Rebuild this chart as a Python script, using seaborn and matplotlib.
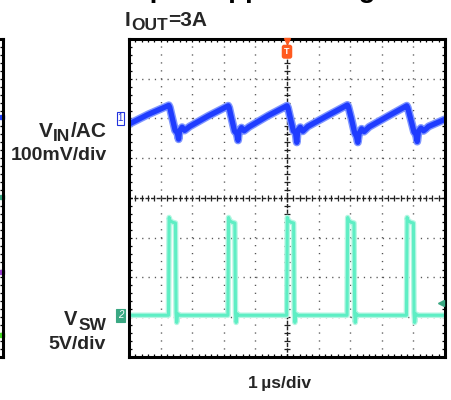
import numpy as np
import pandas as pd
import matplotlib
matplotlib.use("Agg")
import matplotlib.pyplot as plt
from matplotlib.ticker import MultipleLocator, NullFormatter
import seaborn as sns

# ---------------- data ----------------
# Channel 1: input voltage ripple, AC coupled, 100 mV/div (mV vs µs)
vin_t = [-5.00, -4.40, -3.74,
         -3.71, -3.64, -3.54, -3.47, -3.43, -3.40, -3.32, -3.24, -3.16, -3.08, -2.50, -1.86,
         -1.83, -1.76, -1.66, -1.59, -1.55, -1.52, -1.44, -1.36, -1.28, -1.20, -0.60, 0.00,
         0.03, 0.10, 0.20, 0.27, 0.31, 0.34, 0.42, 0.50, 0.58, 0.66, 1.30, 1.91,
         1.94, 2.03, 2.14, 2.20, 2.24, 2.28, 2.36, 2.44, 2.52, 2.60, 3.20, 3.79,
         3.82, 3.90, 4.02, 4.08, 4.12, 4.16, 4.24, 4.32, 4.40, 4.48, 5.00]
vin_mv = [-14, 10, 33,
          28, 4, -30, -36, -52, -31, -22, -30, -25, -20, 6, 32,
          27, 2, -32, -38, -55, -33, -23, -31, -26, -21, 7, 32,
          27, 3, -31, -36, -60, -30, -22, -32, -26, -20, 8, 34,
          30, 2, -36, -45, -60, -38, -26, -33, -27, -21, 6, 32,
          27, 3, -34, -40, -58, -32, -24, -31, -26, -20, -2]

# Channel 2: switch node voltage, 5 V/div (V vs µs)
vsw_t = [-5.00,
         -3.75, -3.73, -3.70, -3.62, -3.53, -3.51, -3.49, -3.46, -3.41,
         -1.87, -1.85, -1.82, -1.74, -1.65, -1.63, -1.61, -1.58, -1.53,
         -0.01, 0.01, 0.04, 0.12, 0.21, 0.23, 0.25, 0.28, 0.33,
         1.90, 1.92, 1.95, 2.03, 2.12, 2.14, 2.16, 2.19, 2.24,
         3.78, 3.80, 3.83, 3.91, 4.00, 4.02, 4.04, 4.07, 4.12,
         5.00]
vsw_v = [0.0,
         0.0, 12.3, 11.9, 11.7, 11.6, 0.3, -0.9, 0.2, 0.0,
         0.0, 12.3, 11.9, 11.7, 11.6, 0.3, -0.9, 0.2, 0.0,
         0.0, 12.3, 11.9, 11.7, 11.6, 0.3, -0.9, 0.2, 0.0,
         0.0, 12.3, 11.9, 11.7, 11.6, 0.3, -0.9, 0.2, 0.0,
         0.0, 12.3, 11.9, 11.7, 11.6, 0.3, -0.9, 0.2, 0.0,
         0.0]

ch1_scale_mv = 100.0   # mV/div
ch2_scale_v = 5.0      # V/div
ch1_offset_div = 2.0
ch2_offset_div = -2.95
trigger_time = 0.0
trigger_level_v = 1.6

# channel-marker colours of the neighbouring (cropped) panel, in divisions
neighbour_marks_div = [2.04, 0.02, -1.86, -3.45]
neighbour_colors = ["#2040ff", "#3aa883", "#9b3fd0", "#44dd22"]

title_text = "Input Ripple Voltage"
iout_parts = ("I", "OUT", "=3A")
ch1_parts = ("V", "IN", "/AC")
ch1_scale_label = "100mV/div"
ch2_parts = ("V", "SW", "")
ch2_scale_label = "5V/div"
time_label = "1\u2009\u00b5s/div"

# ---------------- style ----------------
sns.set_theme(style="white")
plt.rcParams["font.family"] = ["Liberation Sans", "DejaVu Sans"]

W, H = 451, 400
fig = plt.figure(figsize=(W / 100, H / 100), dpi=100)
fig.patch.set_facecolor("white")
renderer = fig.canvas.get_renderer()


def fx(px):
    return px / W


def fy(py):
    return 1 - py / H


def sub_label(x, base, parts, fs_main, fs_sub, drop, ha="left", gap=0.5):
    main, sub, rest = parts
    specs = [(main, fs_main, 0), (sub, fs_sub, drop), (rest, fs_main, 0)]
    texts = []
    widths = []
    for s, f, d in specs:
        if not s:
            continue
        t = fig.text(0, 0, s, fontsize=f, fontweight="bold", ha="left", va="baseline")
        texts.append((t, d))
        widths.append(t.get_window_extent(renderer).width)
    total = sum(widths) + gap * (len(widths) - 1)
    cur = x - total if ha == "right" else x
    for (t, d), w in zip(texts, widths):
        t.set_position((fx(cur), fy(base + d)))
        cur += w + gap


ax_l, ax_t, ax_r, ax_b = 129, 39, 445, 357
ax = fig.add_axes([fx(ax_l), fy(ax_b), (ax_r - ax_l) / W, (ax_b - ax_t) / H])
ax.set_xlim(-5, 5)
ax.set_ylim(-4, 4)
ax.set_facecolor("white")

# graticule dotted lines
for v in [-4, -3, -2, -1, 1, 2, 3, 4]:
    ax.axvline(v, color="#555555", lw=1.0, ls=(0, (0.9, 4.82)), zorder=1)
for v in [-3, -2, -1, 1, 2, 3]:
    ax.axhline(v, color="#555555", lw=1.0, ls=(0, (0.9, 3.66)), zorder=1)

# center lines with crossing ticks
secx = ax.secondary_xaxis(0.5)
secy = ax.secondary_yaxis(0.5)
for sec, axis in [(secx, "x"), (secy, "y")]:
    for s in sec.spines.values():
        s.set_linestyle((0, (2, 2)))
        s.set_linewidth(1.0)
        s.set_color("#222222")
    a = sec.xaxis if axis == "x" else sec.yaxis
    a.set_major_locator(MultipleLocator(1))
    a.set_minor_locator(MultipleLocator(0.2))
    a.set_major_formatter(NullFormatter())
    sec.tick_params(which="both", direction="inout", length=4.5, width=0.9,
                    color="#222222", labelsize=0)

# border ticks
ax.xaxis.set_major_locator(MultipleLocator(1))
ax.xaxis.set_minor_locator(MultipleLocator(0.2))
ax.yaxis.set_major_locator(MultipleLocator(1))
ax.yaxis.set_minor_locator(MultipleLocator(0.2))
ax.xaxis.set_major_formatter(NullFormatter())
ax.yaxis.set_major_formatter(NullFormatter())
ax.tick_params(which="both", direction="in", length=2.5, width=0.9, color="black",
               top=True, bottom=True, left=True, right=True, labelsize=0)
for s in ax.spines.values():
    s.set_linewidth(2.2)
    s.set_color("black")
    s.set_zorder(6)

# traces
df1 = pd.DataFrame({"t": vin_t, "y": np.array(vin_mv) / ch1_scale_mv + ch1_offset_div})
df2 = pd.DataFrame({"t": vsw_t, "y": np.array(vsw_v) / ch2_scale_v + ch2_offset_div})

sns.lineplot(data=df2, x="t", y="y", ax=ax, sort=False, estimator=None,
             color="#b5f6e2", lw=4.0, zorder=3)
sns.lineplot(data=df2, x="t", y="y", ax=ax, sort=False, estimator=None,
             color="#5eeec4", lw=2.2, zorder=4)
sns.lineplot(data=df1, x="t", y="y", ax=ax, sort=False, estimator=None,
             color="#7f96ff", lw=5.8, zorder=3)
sns.lineplot(data=df1, x="t", y="y", ax=ax, sort=False, estimator=None,
             color="#1f3cff", lw=3.8, zorder=4)
ax.set_xlabel("")
ax.set_ylabel("")

# channel markers
yt = ax.get_yaxis_transform()
ax.text(-0.027, ch1_offset_div, "1", transform=yt, ha="center", va="center",
        fontsize=7, color="#2233dd", clip_on=False, zorder=7,
        bbox=dict(boxstyle="square,pad=0.12", fc="white", ec="#2233dd", lw=0.8))
ax.text(-0.027, ch2_offset_div, "2", transform=yt, ha="center", va="center",
        fontsize=7, color="white", fontstyle="italic", clip_on=False, zorder=7,
        bbox=dict(boxstyle="square,pad=0.15", fc="#3aa883", ec="#3aa883", lw=0.8))

# trigger markers
xt = ax.get_xaxis_transform()
ax.plot([trigger_time], [0.995], marker="v", ms=5, color="#ff5a1f", transform=xt,
        clip_on=False, zorder=8)
ax.text(trigger_time, 0.96, "T", transform=xt, ha="center", va="center", fontsize=6.5,
        color="white", fontweight="bold", zorder=8,
        bbox=dict(boxstyle="round,pad=0.2", fc="#ff5a1f", ec="#ff5a1f"))
ax.plot([4.86], [ch2_offset_div + trigger_level_v / ch2_scale_v], marker="<", ms=5,
        color="#3aa883", zorder=8, clip_on=False)

# partial neighbour panel at left edge
axn = fig.add_axes([-0.3, fy(ax_b), 0.3 + fx(2.5), (ax_b - ax_t) / H])
axn.set_xlim(0, 1)
axn.set_ylim(-4, 4)
axn.yaxis.set_minor_locator(MultipleLocator(0.2))
axn.yaxis.set_major_locator(MultipleLocator(1))
axn.yaxis.set_major_formatter(NullFormatter())
axn.set_xticks([])
axn.tick_params(which="both", direction="in", length=2.5, width=0.9, color="black",
                left=False, right=True, labelsize=0)
for s in axn.spines.values():
    s.set_linewidth(2.2)
    s.set_color("black")
for yv, c in zip(neighbour_marks_div, neighbour_colors):
    axn.plot([0.993], [yv], marker="s", ms=2.5, color=c, zorder=1, clip_on=False)

# texts
fig.text(fx(125), fy(-3), title_text, fontsize=20, fontweight="bold", ha="left",
         va="baseline", color="black")
sub_label(125, 26, iout_parts, 15, 12.5, 4, ha="left")
sub_label(107, 137, ch1_parts, 15, 12.5, 4, ha="right")
fig.text(fx(107), fy(160), ch1_scale_label, fontsize=14, fontweight="bold", ha="right",
         va="baseline")
sub_label(106, 325, ch2_parts, 14.5, 12.5, 5, ha="right")
fig.text(fx(106), fy(349), ch2_scale_label, fontsize=14, fontweight="bold", ha="right",
         va="baseline")
fig.text(fx(279), fy(388), time_label, fontsize=12.5, fontweight="bold", ha="center",
         va="baseline")

fig.savefig("out.png", dpi=100, facecolor="white")
